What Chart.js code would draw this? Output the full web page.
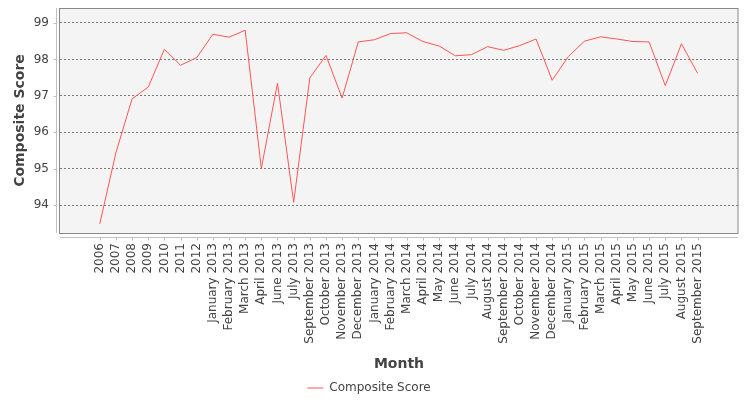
<!DOCTYPE html>
<html>
<head>
<meta charset="utf-8">
<script src="https://cdn.jsdelivr.net/npm/chart.js@4/dist/chart.umd.min.js"></script>
<style>
  html, body { margin: 0; padding: 0; background: #fff; }
</style>
</head>
<body>
<canvas id="scoreChart" width="750" height="400"></canvas>
<script>
// Data
const months = [
  "2006", "2007", "2008", "2009", "2010", "2011", "2012",
  "January 2013", "February 2013", "March 2013", "April 2013", "June 2013",
  "July 2013", "September 2013", "October 2013", "November 2013", "December 2013",
  "January 2014", "February 2014", "March 2014", "April 2014", "May 2014",
  "June 2014", "July 2014", "August 2014", "September 2014", "October 2014",
  "November 2014", "December 2014", "January 2015", "February 2015", "March 2015",
  "April 2015", "May 2015", "June 2015", "July 2015", "August 2015", "September 2015"
];

const compositeScores = [
  93.49, 95.44, 96.92, 97.24, 98.28, 97.84, 98.05,
  98.69, 98.61, 98.80, 95.01, 97.35,
  94.08, 97.49, 98.11, 96.94, 98.48,
  98.54, 98.71, 98.73, 98.49, 98.37,
  98.10, 98.13, 98.35, 98.25, 98.38,
  98.56, 97.43, 98.08, 98.50, 98.62,
  98.56, 98.49, 98.48, 97.28, 98.43, 97.62
];

const yTicks = [94, 95, 96, 97, 98, 99];

const PLOT_BOTTOM = 233;
const PAD_BOTTOM = -4;
const textColor = "#444444";

Chart.defaults.font.family = "'DejaVu Sans', sans-serif";
Chart.defaults.color = textColor;

// Grey plot background, border and the offset axis lines
const plotFrame = {
  id: "plotFrame",
  beforeDraw(chart) {
    const { ctx, chartArea: a } = chart;
    ctx.save();
    ctx.fillStyle = "#f4f4f4";
    ctx.fillRect(a.left, a.top, a.right - a.left, a.bottom - a.top);
    ctx.restore();
  },
  afterDraw(chart) {
    const { ctx, chartArea: a, scales } = chart;
    ctx.save();
    ctx.strokeStyle = "#888888";
    ctx.lineWidth = 1;
    ctx.strokeRect(a.left - 0.5, a.top + 0.5, a.right - a.left + 0.5, a.bottom - a.top);

    // y axis line + ticks
    ctx.strokeStyle = "#c0c0c0";
    ctx.beginPath();
    const ax = Math.round(a.left - 4) + 0.5;
    ctx.moveTo(ax, a.top);
    ctx.lineTo(ax, a.bottom);
    yTicks.forEach((v) => {
      const y = Math.round(scales.y.getPixelForValue(v)) + 0.5;
      ctx.moveTo(ax - 3, y);
      ctx.lineTo(ax, y);
    });
    // x axis line + ticks
    const ay = Math.round(a.bottom + 4) + 0.5;
    ctx.moveTo(a.left, ay);
    ctx.lineTo(a.right, ay);
    months.forEach((m, i) => {
      const x = Math.round(scales.x.getPixelForValue(i)) + 0.5;
      ctx.moveTo(x, ay);
      ctx.lineTo(x, ay + 3);
    });
    ctx.stroke();
    ctx.restore();
  },
};

const ctx = document.getElementById("scoreChart").getContext("2d");

const scoreChart = new Chart(ctx, {
  type: "line",
  data: {
    datasets: [
      {
        label: "Composite Score",
        data: compositeScores.map((v, i) => ({ x: i, y: v })),
        borderColor: "#ff5555",
        backgroundColor: "#ff5555",
        borderWidth: 1,
        pointRadius: 0,
        pointHoverRadius: 0,
        pointStyle: "line",
        tension: 0,
        fill: false,
      },
    ],
  },
  options: {
    responsive: false,
    animation: false,
    layout: {
      padding: { top: 8, right: 12, left: 0, bottom: PAD_BOTTOM },
    },
    plugins: {
      legend: {
        position: "bottom",
        labels: {
          usePointStyle: true,
          pointStyleWidth: 16,
          font: { size: 12 },
          color: textColor,
          padding: 6,
        },
      },
      tooltip: { enabled: false },
    },
    scales: {
      x: {
        type: "linear",
        min: -2.46,
        max: 39.5,
        afterBuildTicks(scale) {
          scale.ticks = months.map((m, i) => ({ value: i }));
        },
        afterFit(scale) {
          const legendH = scale.chart.legend ? scale.chart.legend.height : 26;
          scale.height = 400 - PLOT_BOTTOM - legendH - PAD_BOTTOM;
          scale.paddingLeft = 0;
          scale.paddingRight = 0;
        },
        grid: { display: false, drawTicks: false },
        border: { display: false },
        ticks: {
          autoSkip: false,
          minRotation: 90,
          maxRotation: 90,
          padding: 10,
          font: { size: 12 },
          color: textColor,
          callback: (value) => months[value] ?? "",
        },
        title: {
          display: true,
          text: "Month",
          font: { size: 14, weight: "bold" },
          color: textColor,
          padding: { top: 4, bottom: 3 },
        },
      },
      y: {
        min: 93.24,
        max: 99.41,
        afterBuildTicks(scale) {
          scale.ticks = yTicks.map((v) => ({ value: v }));
        },
        afterFit(scale) {
          scale.width = 60;
          scale.paddingTop = 0;
          scale.paddingBottom = 0;
        },
        grid: {
          color: "#7a7a7a",
          lineWidth: 1,
          drawTicks: false,
        },
        border: { display: false, dash: [2, 2] },
        ticks: {
          padding: 11,
          font: { size: 12 },
          color: textColor,
        },
        title: {
          display: true,
          text: "Composite Score",
          font: { size: 14, weight: "bold" },
          color: textColor,
          padding: { top: 12, bottom: 0 },
        },
      },
    },
  },
  plugins: [plotFrame],
});
</script>
</body>
</html>
